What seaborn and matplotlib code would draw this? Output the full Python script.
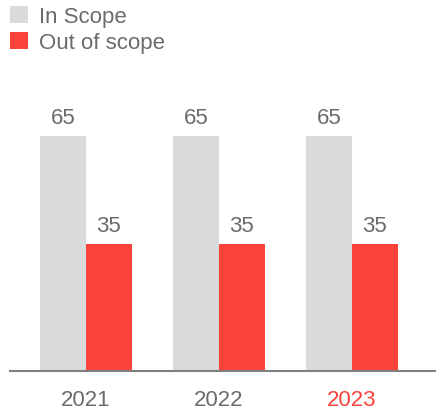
import matplotlib
matplotlib.use("Agg")
import matplotlib.pyplot as plt
import seaborn as sns
import pandas as pd
from matplotlib.patches import Patch

years = ["2021", "2022", "2023"]
in_scope = [65, 65, 65]
out_scope = [35, 35, 35]
series = ["In Scope", "Out of scope"]
colors = ["#d9dadc", "#fc433b"]
text_color = "#6b6b6b"

sns.set_theme(style="white")
plt.rcParams["font.family"] = ["Liberation Sans", "DejaVu Sans"]

df = pd.DataFrame({
    "year": years * 2,
    "value": in_scope + out_scope,
    "series": [series[0]] * 3 + [series[1]] * 3,
})

fig = plt.figure(figsize=(4.36, 4.14), dpi=100)
ax = fig.add_axes([10 / 436, 42 / 414, 426 / 436, 312 / 414])
sns.barplot(data=df, x="year", y="value", hue="series", palette=colors,
            width=0.692, ax=ax, legend=False, saturation=1, linewidth=0)

for c in ax.containers:
    ax.bar_label(c, labels=[f"{int(v)}" for v in c.datavalues], padding=6,
                 fontsize=16, color=text_color)

ax.set_xlim(-0.571, 2.632)
ax.set_ylim(0, 86.3)
ax.set_xlabel("")
ax.set_ylabel("")
ax.set_yticks([])
for s in ["top", "right", "left"]:
    ax.spines[s].set_visible(False)
ax.spines["bottom"].set_color("#7f7f7f")
ax.spines["bottom"].set_linewidth(1.5)
ax.tick_params(axis="x", length=0, pad=13, labelsize=16, labelcolor=text_color)
for lbl in ax.get_xticklabels():
    if lbl.get_text() == "2023":
        lbl.set_color(colors[1])

handles = [Patch(facecolor=colors[0], linewidth=0), Patch(facecolor=colors[1], linewidth=0)]
fig.legend(handles, series, loc="upper left", bbox_to_anchor=(-0.012, 1.02),
           frameon=False, fontsize=16, labelcolor=text_color,
           handlelength=0.8, handleheight=0.8, handletextpad=0.5,
           labelspacing=0.2, borderaxespad=0.3)

fig.savefig("out.png", dpi=100)
